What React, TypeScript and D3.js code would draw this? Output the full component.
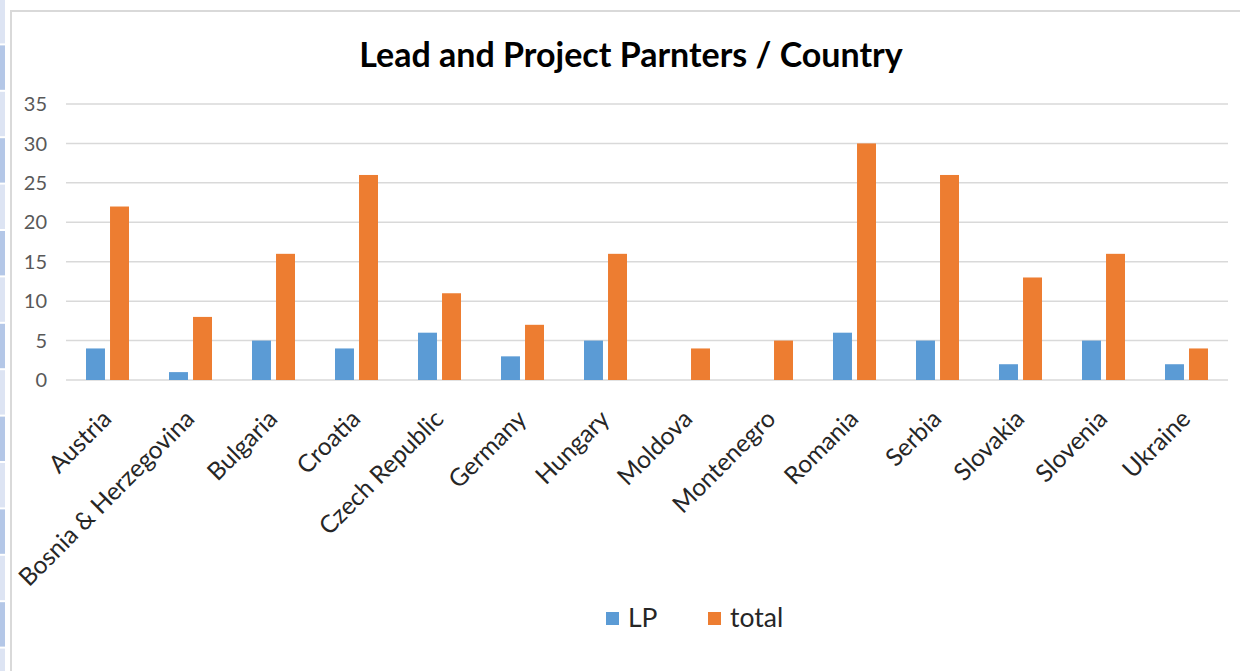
import * as React from 'react';
import { useEffect, useRef } from 'react';
import * as d3 from 'd3';

// Data
const countries = [
  'Austria', 'Bosnia & Herzegovina', 'Bulgaria', 'Croatia', 'Czech Republic', 'Germany', 'Hungary',
  'Moldova', 'Montenegro', 'Romania', 'Serbia', 'Slovakia', 'Slovenia', 'Ukraine',
];
const lpValues = [4, 1, 5, 4, 6, 3, 5, 0, 0, 6, 5, 2, 5, 2];
const totalValues = [22, 8, 16, 26, 11, 7, 16, 4, 5, 30, 26, 13, 16, 4];
const seriesNames = ['LP', 'total'];
const yTicks = [0, 5, 10, 15, 20, 25, 30, 35];

const WIDTH = 1240;
const HEIGHT = 671;
const FONT = 'Lato, "Open Sans", sans-serif';

const App: React.FC = () => {
  const svgRef = useRef<SVGSVGElement>(null);

  useEffect(() => {
    const svg = d3.select(svgRef.current);
    svg.selectAll('*').remove();

    svg.append('rect').attr('width', WIDTH).attr('height', HEIGHT).attr('fill', '#fff');

    // excel row headers peeking in on the left
    const rowH = 46.4;
    d3.range(Math.ceil(HEIGHT / rowH)).forEach(i => {
      svg.append('rect')
        .attr('x', 0)
        .attr('y', i * rowH - 1)
        .attr('width', 5)
        .attr('height', rowH - 2)
        .attr('fill', i % 2 === 0 ? '#dde4f3' : '#b4c7e7');
    });

    // chart frame
    svg.append('path')
      .attr('d', `M11,${HEIGHT} V11 H${WIDTH}`)
      .attr('fill', 'none')
      .attr('stroke', '#d9d9d9')
      .attr('stroke-width', 2);

    const margin = { top: 104, right: 12, bottom: 291, left: 66 };
    const x0 = d3.scaleBand<string>()
      .domain(countries)
      .range([margin.left, WIDTH - margin.right])
      .paddingInner(0.482)
      .paddingOuter(0.241);
    const x1 = d3.scaleBand<string>()
      .domain(seriesNames)
      .range([0, x0.bandwidth()])
      .paddingInner(0.21);
    const y = d3.scaleLinear().domain([0, 35]).range([HEIGHT - margin.bottom, margin.top]);
    const color = d3.scaleOrdinal<string, string>().domain(seriesNames).range(['#5b9bd5', '#ed7d31']);

    // gridlines + y labels
    const grid = svg.append('g');
    grid.selectAll('line')
      .data(yTicks)
      .enter().append('line')
      .attr('x1', margin.left)
      .attr('x2', WIDTH - margin.right)
      .attr('y1', d => y(d))
      .attr('y2', d => y(d))
      .attr('stroke', '#d9d9d9')
      .attr('stroke-width', 1.5);
    grid.selectAll('text')
      .data(yTicks)
      .enter().append('text')
      .attr('x', 47)
      .attr('y', d => y(d))
      .attr('dy', '0.36em')
      .attr('text-anchor', 'end')
      .attr('font-family', FONT)
      .attr('font-size', 20)
      .attr('fill', '#595959')
      .text(d => d);

    // bars
    const rows = countries.map((c, i) => ({ country: c, values: [lpValues[i], totalValues[i]] }));
    const groups = svg.append('g')
      .selectAll('g')
      .data(rows)
      .enter().append('g')
      .attr('transform', d => `translate(${x0(d.country)},0)`);
    groups.selectAll('rect')
      .data(d => d.values.map((v, k) => ({ key: seriesNames[k], value: v })))
      .enter().append('rect')
      .attr('x', d => x1(d.key) ?? 0)
      .attr('y', d => y(d.value))
      .attr('width', x1.bandwidth())
      .attr('height', d => y(0) - y(d.value))
      .attr('fill', d => color(d.key));

    // x labels, rotated
    svg.append('g')
      .selectAll('text')
      .data(countries)
      .enter().append('text')
      .attr('transform', d => `translate(${(x0(d) ?? 0) + x0.bandwidth() / 2 - 7},${y(0) + 28}) rotate(-45)`)
      .attr('text-anchor', 'end')
      .attr('dy', '0.72em')
      .attr('font-family', FONT)
      .attr('font-size', 24.5)
      .attr('fill', '#262626')
      .text(d => d);

    // title
    svg.append('text')
      .attr('x', 631)
      .attr('y', 67)
      .attr('text-anchor', 'middle')
      .attr('font-family', FONT)
      .attr('font-weight', 'bold')
      .attr('font-size', 34)
      .attr('fill', '#000')
      .text('Lead and Project Parnters / Country');

    // legend
    const legend = svg.append('g')
      .selectAll('g')
      .data(seriesNames)
      .enter().append('g')
      .attr('transform', (d, i) => `translate(${606 + i * 102},612)`);
    legend.append('rect')
      .attr('width', 13)
      .attr('height', 13)
      .attr('fill', d => color(d));
    legend.append('text')
      .attr('x', 22)
      .attr('y', 15)
      .attr('font-family', FONT)
      .attr('font-size', 26.5)
      .attr('fill', '#262626')
      .text(d => d);
  }, []);

  return (
    <svg
      ref={svgRef}
      width={WIDTH}
      height={HEIGHT}
      style={{ position: 'absolute', left: 0, top: 0 }}
    ></svg>
  );
};

export default App;
